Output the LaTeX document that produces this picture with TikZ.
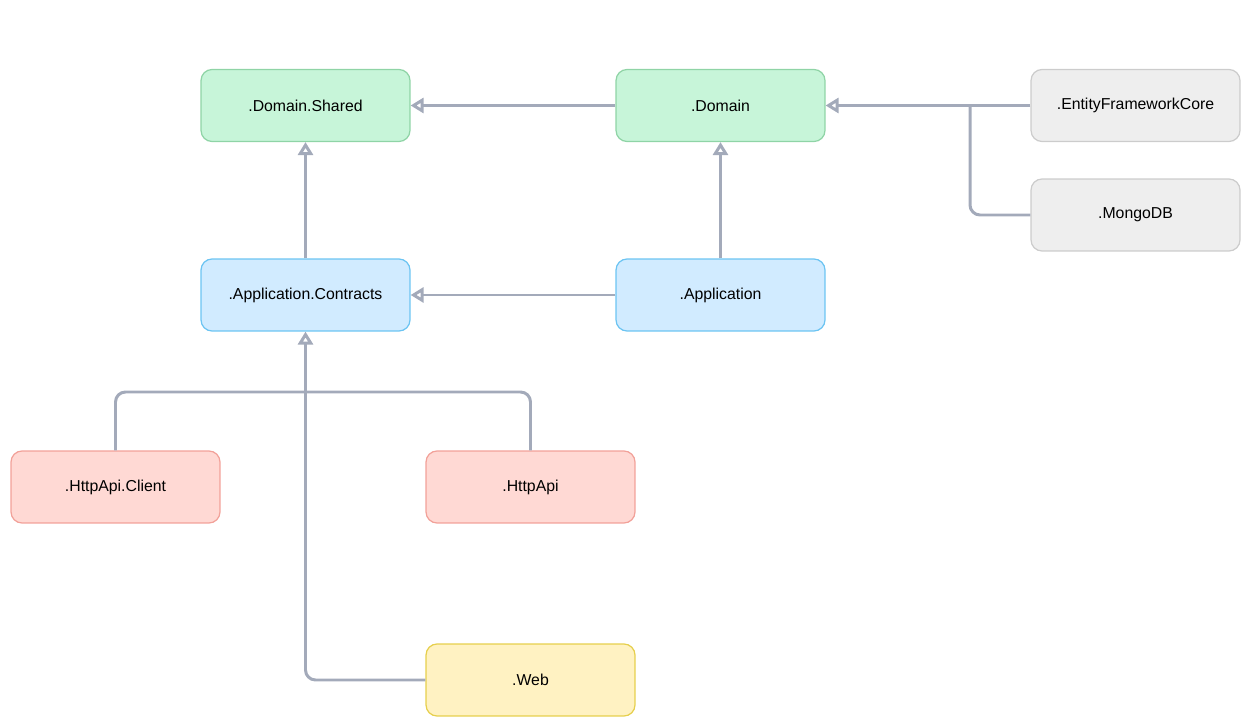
\documentclass[tikz,border=0pt]{standalone}
\usepackage{fontspec}
\setmainfont{Liberation Sans}
\usetikzlibrary{positioning}
\usetikzlibrary{arrows.meta}
\definecolor{lnk}{HTML}{A3AABA}
\definecolor{grfill}{HTML}{C7F5D9}\definecolor{grdraw}{HTML}{8FD4A6}
\definecolor{blfill}{HTML}{D1EBFF}\definecolor{bldraw}{HTML}{6CC4F2}
\definecolor{rdfill}{HTML}{FFD9D4}\definecolor{rddraw}{HTML}{F2A199}
\definecolor{gyfill}{HTML}{EEEEEE}\definecolor{gydraw}{HTML}{CCCCCC}
\definecolor{ylfill}{HTML}{FFF2C2}\definecolor{yldraw}{HTML}{E6CF4D}
\begin{document}
\begin{tikzpicture}[x=0.02cm, y=-0.02cm,
        node/.style={draw, rounded corners=0.22cm, line width=0.7pt, align=center,
            minimum width=4.18cm, minimum height=1.44cm, font=\fontsize{9}{11}\selectfont},
        green/.style={node, fill=grfill, draw=grdraw},
        blue/.style={node, fill=blfill, draw=bldraw},
        red/.style={node, fill=rdfill, draw=rddraw},
        gray/.style={node, fill=gyfill, draw=gydraw},
        yellow/.style={node, fill=ylfill, draw=yldraw},
        link/.style={draw=lnk, line width=1.7pt, rounded corners=0.2cm},
        arrow/.style={link, -{Triangle[open, width=0.3cm, length=0.26cm]}}
    ]
        \useasboundingbox (0,0) rectangle (1252,722);
        \node[green] (shared) at (305.5,105.5) {.Domain.Shared};
        \node[green] (domain) at (720.5,105.5) {.Domain};
        \node[gray] (efcore) at (1135.5,105.5) {.EntityFrameworkCore};
        \node[gray] (mongo) at (1135.5,215) {.MongoDB};
        \node[blue] (contracts) at (305.5,295) {.Application.Contracts};
        \node[blue] (app) at (720.5,295) {.Application};
        \node[red] (client) at (115.5,487) {.HttpApi.Client};
        \node[red] (httpapi) at (530.5,487) {.HttpApi};
        \node[yellow] (web) at (530.5,680) {.Web};

        \coordinate (join) at (970,105.5);
        \coordinate (bus) at (305.5,392);

        \draw[arrow] (domain) -- (shared);
        \draw[arrow] (efcore) -- (domain);
        \draw[link] (mongo.west) -| (join);
        \draw[arrow] (contracts) -- (shared);
        \draw[arrow] (app) -- (domain);
        \draw[arrow] (app) -- (contracts);
        \draw[link] (client.north) |- (bus);
        \draw[link] (httpapi.north) |- (bus);
        \draw[arrow] (web.west) -| (contracts.south);
    \end{tikzpicture}
\end{document}
